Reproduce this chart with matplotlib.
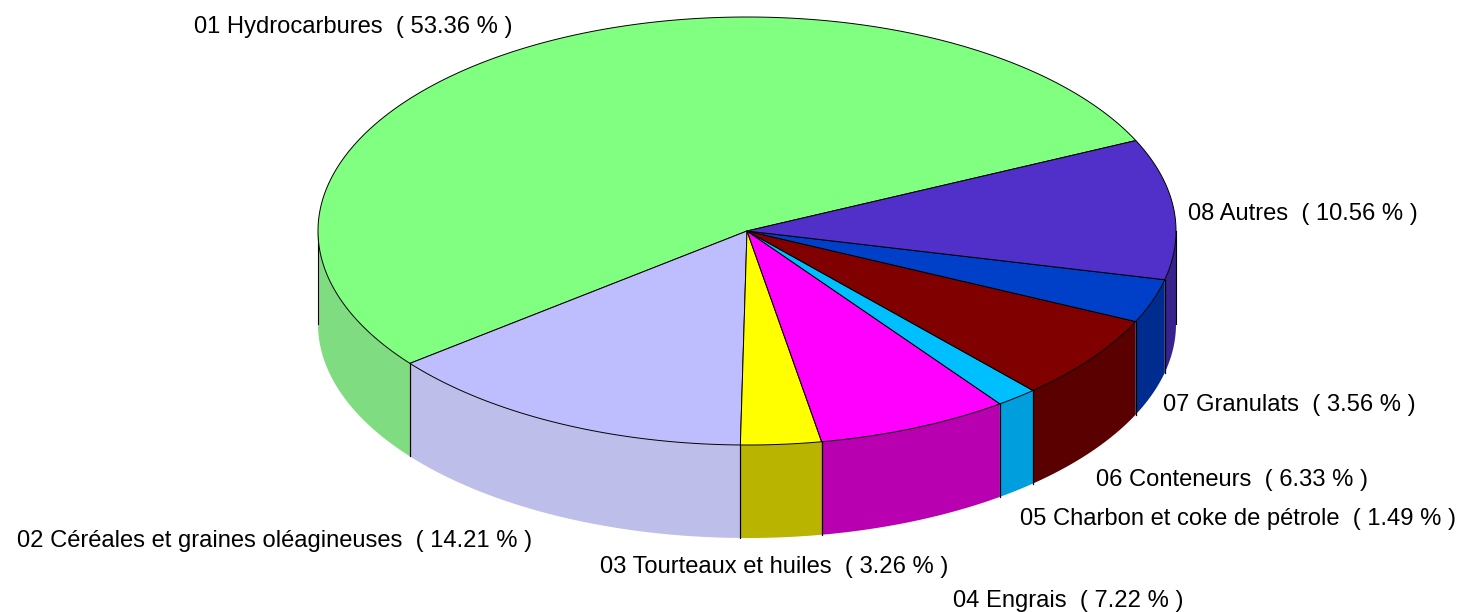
#!/usr/bin/env python3

import numpy as np
import matplotlib.pyplot as plt

# Data
names = ['01 Hydrocarbures', '02 Céréales et graines oléagineuses',
         '03 Tourteaux et huiles', '04 Engrais',
         '05 Charbon et coke de pétrole', '06 Conteneurs',
         '07 Granulats', '08 Autres']
shares = [53.36, 14.21, 3.26, 7.22, 1.49, 6.33, 3.56, 10.56]
# Slice sizes as measured on the picture, they differ a bit from the printed ones
slices = [53.67, 14.14, 3.03, 7.25, 1.58, 6.43, 3.30, 10.60]

# Colours, top face and side
top_col = ['#80FF80', '#BEBEFF', '#FFFF00', '#FF00FF',
           '#00BFFF', '#800000', '#0040C8', '#5030C8']
side_col = ['#80DC80', '#BEBEEB', '#B8B400', '#B800B0',
            '#009EDC', '#5A0000', '#002C90', '#38228C']

# Label anchors (left edge, centre), pixels
label_x = [194, 17, 600, 953, 1020, 1096, 1163, 1188]
label_y = [27, 541, 567, 601, 519, 480, 405, 214]

# Pie geometry, pixels
cx, cy = 747, 231
rx, ry = 429, 214
depth = 93
start = 25.0

plt.rcParams['font.family'] = ['Liberation Sans', 'DejaVu Sans']

fig = plt.figure(figsize=(14.64, 6.12), dpi=100)
ax = fig.add_axes([0, 0, 1, 1])
ax.set_xlim(0, 1464)
ax.set_ylim(612, 0)
ax.axis('off')

def rim(a, b):
    t = np.radians(np.linspace(a, b, max(int(abs(b - a) * 4), 2)))
    return cx + rx * np.cos(t), cy - ry * np.sin(t)

edges = start + np.cumsum([0] + slices) * 3.6

# Sides first, only the front half of the rim shows
for i in range(len(slices)):
    for lo, hi in [(180, 360), (540, 720)]:
        a = max(edges[i], lo)
        b = min(edges[i + 1], hi)
        if b <= a:
            continue
        x, y = rim(a, b)
        ax.fill(np.r_[x, x[::-1]], np.r_[y, y[::-1] + depth],
                color=side_col[i], lw=0, zorder=1)
        for xe, ye in [(x[0], y[0]), (x[-1], y[-1])]:
            ax.plot([xe, xe], [ye, ye + depth], color='k', lw=0.8, zorder=2)

# Top face
for i in range(len(slices)):
    x, y = rim(edges[i], edges[i + 1])
    ax.fill(np.r_[cx, x], np.r_[cy, y], facecolor=top_col[i],
            edgecolor='k', lw=0.7, joinstyle='round', zorder=3)

for i in range(len(names)):
    TE = f'{names[i]}  ( {shares[i]:.2f} % )'
    ax.text(label_x[i], label_y[i], TE, fontsize=17.1, color='k',
            ha='left', va='center', zorder=4)

plt.savefig('out.png', dpi=100)
